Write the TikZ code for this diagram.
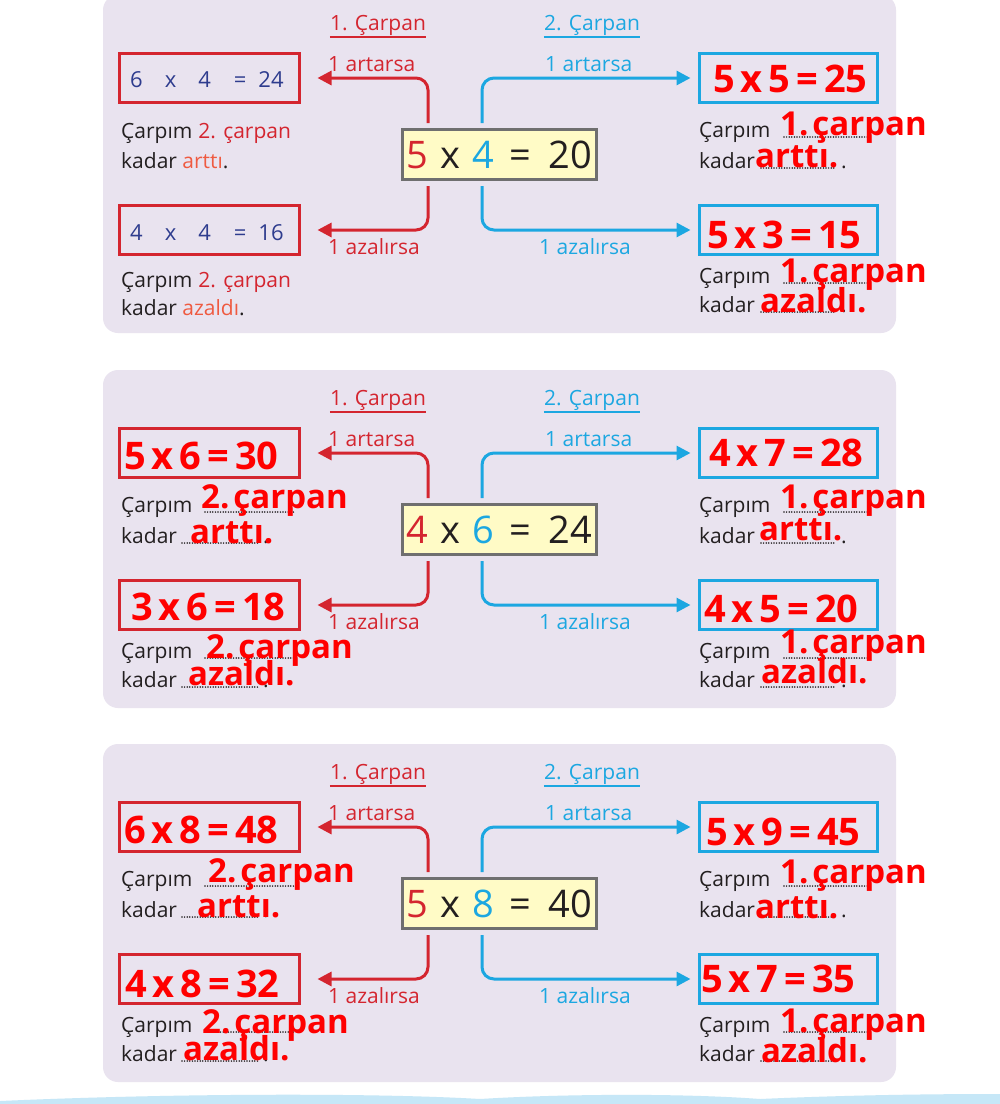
\documentclass[tikz,border=0pt]{standalone}
\usepackage{fontspec}
\setmainfont{Open Sans}
\usetikzlibrary{arrows.meta}

\definecolor{panelbg}{HTML}{E9E3EF}
\definecolor{prred}{HTML}{D4252F}
\definecolor{prblue}{HTML}{1CA7E1}
\definecolor{ctrgray}{HTML}{6F6F6F}
\definecolor{ctrfill}{HTML}{FFFBC6}
\definecolor{navy}{HTML}{2E3C8E}
\definecolor{ansred}{HTML}{FF0000}
\definecolor{lightred}{HTML}{EF5A40}
\definecolor{inkblack}{HTML}{231F20}
\definecolor{wavebg}{HTML}{C6E7F7}

\newcommand{\carp}[3]{#1\hspace{6pt}x\hspace{6pt}#2\hspace{6pt}=\hspace{6pt}#3}
\newcommand{\carpan}[1]{#1.\hspace{4pt}çarpan}

\tikzset{
  txt/.style={inner sep=0pt, anchor=base west, text=inkblack, font=\fontsize{21}{24}\selectfont},
  head/.style={inner sep=0pt, anchor=base, font=\fontsize{21}{24}\selectfont},
  ans/.style={inner sep=0pt, anchor=base west, text=ansred, font=\bfseries\fontsize{33}{38}\selectfont},
  eqn/.style={inner sep=0pt, anchor=base west, text=ansred, font=\bfseries\fontsize{38}{42}\selectfont},
  ctrbox/.style={draw=ctrgray, fill=ctrfill, line width=3pt, minimum width=194pt, minimum height=50pt, inner sep=0pt, text=inkblack, font=\fontsize{38}{42}\selectfont},
  redbox/.style={draw=prred, line width=3pt, minimum width=180pt, minimum height=49pt},
  bluebox/.style={draw=prblue, line width=3pt, minimum width=178pt, minimum height=49pt},
  redarr/.style={draw=prred, line width=3pt, rounded corners=12pt, -{Triangle[length=14pt,width=14pt]}, shorten <=5pt, shorten >=16.5pt},
  bluearr/.style={draw=prblue, line width=3pt, rounded corners=12pt, -{Triangle[length=14pt,width=14pt]}, shorten <=5pt, shorten >=7.5pt},
  dotline/.style={line width=1.7pt, dash pattern=on 0pt off 2.6pt, line cap=round, inkblack},
}

\begin{document}
\begin{tikzpicture}[x=1pt,y=-1pt]
	\fill[white] (0,0) rectangle (1000,1104);
	\useasboundingbox (0,0) rectangle (1000,1104);

	% three panels, same frame
	\foreach \n/\s/\a/\b/\p in {1/0/5/4/20, 2/375/4/6/24, 3/749/5/8/40} {
	\begin{scope}[yshift=-\s pt]
		\fill[panelbg, rounded corners=15pt] (103,-5) rectangle (896,333);

		\node[head, text=prred] (h1\n) at (378,30) {1. Çarpan};
		\node[head, text=prblue] (h2\n) at (592,30) {2. Çarpan};
		\draw[prred, line width=1.5pt] ([yshift=-7pt]h1\n.base west) -- ([yshift=-7pt]h1\n.base east);
		\draw[prblue, line width=1.5pt] ([yshift=-7pt]h2\n.base west) -- ([yshift=-7pt]h2\n.base east);

		\node[ctrbox] (c\n) at (499.5,154.5) {\textcolor{prred}{\a}\hspace{12pt}x\hspace{12pt}\textcolor{prblue}{\b}\hspace{15pt}=\hspace{18pt}\p};

		\node[redbox] (lt\n) at (209.5,78) {};
		\node[redbox] (lb\n) at (209.5,230) {};
		\node[bluebox] (rt\n) at (788.5,78) {};
		\node[bluebox] (rb\n) at (788.5,230) {};

		\draw[redarr] ([xshift=27pt]c\n.north west) |- (lt\n.east);
		\draw[redarr] ([xshift=27pt]c\n.south west) |- (lb\n.east);
		\draw[bluearr] ([xshift=81pt]c\n.north west) |- (rt\n.west);
		\draw[bluearr] ([xshift=81pt]c\n.south west) |- (rb\n.west);

		\node[txt, text=prred] (la\n) at (328,71) {1 artarsa};
		\node[txt, text=prred] (lz\n) at (328,254) {1 azalırsa};
		\node[txt, text=prblue] (ra\n) at (545,71) {1 artarsa};
		\node[txt, text=prblue] (rz\n) at (539,254) {1 azalırsa};

		% right side lines
		\node[txt] (rc\n) at (699,137) {Çarpım};
		\node[txt] (rk\n) at (699,168) {kadar};
		\node[txt] (rd\n) at (841,168) {.};
		\draw[dotline] (784,137) -- (872,137);
		\draw[dotline] (761,168) -- (835,168);
		\node[txt] (rc2\n) at (699,283) {Çarpım};
		\node[txt] (rk2\n) at (699,312) {kadar};
		\node[txt] (rd2\n) at (841,312) {.};
		\draw[dotline] (784,283) -- (872,283);
		\draw[dotline] (761,312) -- (835,312);

		% left side lines
		\ifnum\n>1
		\node[txt] (lc\n) at (121,137) {Çarpım};
		\node[txt] (lk\n) at (121,168) {kadar};
		\node[txt] (ld\n) at (263,168) {.};
		\draw[dotline] (205,137) -- (296,137);
		\draw[dotline] (182,168) -- (258,168);
		\node[txt] (lc2\n) at (121,283) {Çarpım};
		\node[txt] (lk2\n) at (121,312) {kadar};
		\node[txt] (ld2\n) at (263,312) {.};
		\draw[dotline] (205,283) -- (296,283);
		\draw[dotline] (182,312) -- (258,312);
		\fi
	\end{scope}
	}

	% panel 1, printed
	\node[txt, text=navy, font=\fontsize{22}{26}\selectfont] (p1) at (130,87) {6\hspace{22pt}x\hspace{22pt}4\hspace{23pt}=\hspace{12pt}24};
	\node[txt, text=navy, font=\fontsize{22}{26}\selectfont] (p2) at (130,240) {4\hspace{22pt}x\hspace{22pt}4\hspace{23pt}=\hspace{12pt}16};
	\node[txt] (p3) at (121,138) {Çarpım\hspace{6pt}\textcolor{prred}{2. çarpan}};
	\node[txt] (p4) at (121,168) {kadar \textcolor{lightred}{arttı}.};
	\node[txt] (p5) at (121,287) {Çarpım\hspace{6pt}\textcolor{prred}{2. çarpan}};
	\node[txt] (p6) at (121,315) {kadar \textcolor{lightred}{azaldı}.};

	% answers, panel 1
	\node[eqn] (a1) at (713,92) {\carp{5}{5}{25}};
	\node[ans] (a2) at (780,135) {\carpan{1}};
	\node[ans] (a3) at (755,167) {arttı.};
	\node[eqn] (a4) at (707,248) {\carp{5}{3}{15}};
	\node[ans] (a5) at (780,282) {\carpan{1}};
	\node[ans] (a6) at (760,312) {azaldı.};

	% answers, panel 2
	\node[eqn] (b1) at (124,469) {\carp{5}{6}{30}};
	\node[ans] (b2) at (201,508) {\carpan{2}};
	\node[ans] (b3) at (190,543) {arttı.};
	\node[eqn] (b4) at (131,620) {\carp{3}{6}{18}};
	\node[ans] (b5) at (206,658) {\carpan{2}};
	\node[ans] (b6) at (188,685) {azaldı.};
	\node[eqn] (b7) at (709,466) {\carp{4}{7}{28}};
	\node[ans] (b8) at (780,508) {\carpan{1}};
	\node[ans] (b9) at (759,540) {arttı.};
	\node[eqn] (b10) at (704,622) {\carp{4}{5}{20}};
	\node[ans] (b11) at (780,653) {\carpan{1}};
	\node[ans] (b12) at (761,683) {azaldı.};

	% answers, panel 3
	\node[eqn] (d1) at (124,843) {\carp{6}{8}{48}};
	\node[ans] (d2) at (208,882) {\carpan{2}};
	\node[ans] (d3) at (197,917) {arttı.};
	\node[eqn] (d4) at (125,997) {\carp{4}{8}{32}};
	\node[ans] (d5) at (202,1033) {\carpan{2}};
	\node[ans] (d6) at (183,1060) {azaldı.};
	\node[eqn] (d7) at (706,845) {\carp{5}{9}{45}};
	\node[ans] (d8) at (780,883) {\carpan{1}};
	\node[ans] (d9) at (755,918) {arttı.};
	\node[eqn] (d10) at (701,992) {\carp{5}{7}{35}};
	\node[ans] (d11) at (780,1032) {\carpan{1}};
	\node[ans] (d12) at (761,1062) {azaldı.};

	% sea at the bottom
	\fill[wavebg] (0,1104) -- (0,1101) .. controls (180,1093) and (380,1093) .. (480,1099)
		.. controls (560,1094) and (680,1093) .. (760,1099)
		.. controls (850,1095) and (930,1094) .. (1000,1094) -- (1000,1104) -- cycle;
\end{tikzpicture}
\end{document}
